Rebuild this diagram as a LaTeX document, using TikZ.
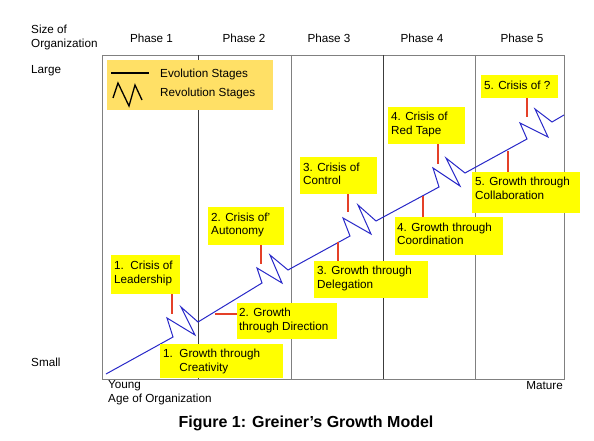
\documentclass[tikz,border=0pt]{standalone}
\usepackage{fontspec}
\setmainfont{Liberation Sans}
\definecolor{boxyellow}{RGB}{255,255,0}
\definecolor{legyellow}{RGB}{255,224,102}
\definecolor{tickred}{RGB}{228,64,40}
\definecolor{curveblue}{RGB}{40,40,200}
\definecolor{framegray}{RGB}{128,128,128}
\definecolor{divdark}{RGB}{60,60,60}
\begin{document}
\begin{tikzpicture}[x=1pt,y=-1pt,
  lbl/.style={font=\fontsize{11.7}{14}\selectfont, inner sep=0pt},
  ttl/.style={font=\fontsize{16}{19}\selectfont\bfseries, inner sep=0pt},
  ybox/.style={fill=boxyellow, anchor=north west, inner sep=0pt},
  btext/.style={anchor=north west, inner sep=0pt, align=left, font=\fontsize{11.7}{13.8}\selectfont},
  tickline/.style={draw=tickred, line width=1.4pt},
  frameline/.style={draw=framegray, line width=0.9pt},
  darkline/.style={draw=divdark, line width=0.9pt},
  curveline/.style={draw=curveblue, line width=1pt, line join=miter},
  legline/.style={draw=black, line width=1.1pt}]
\useasboundingbox (0,0) rectangle (594,441);

% axis texts
\node[lbl, anchor=base west] (size1) at (31,34) {Size of};
\node[lbl, anchor=base west] (size2) at (31,48) {Organization};
\node[lbl, anchor=base west] (large) at (31,74) {Large};
\node[lbl, anchor=base west] (small) at (31,366.5) {Small};
\node[lbl, anchor=base west] (young) at (108,388.5) {Young};
\node[lbl, anchor=base west] (age) at (108,402) {Age of Organization};
\node[lbl, anchor=base east] (mature) at (563,389.5) {Mature};
\node[lbl, anchor=base] (ph1) at (151.5,42.5) {Phase 1};
\node[lbl, anchor=base] (ph2) at (244,42.5) {Phase 2};
\node[lbl, anchor=base] (ph3) at (329,42.5) {Phase 3};
\node[lbl, anchor=base] (ph4) at (422,42.5) {Phase 4};
\node[lbl, anchor=base] (ph5) at (522,42.5) {Phase 5};
\node[ttl, anchor=base] (title) at (306,427) {Figure 1: Greiner’s Growth Model};

% frame
\draw[frameline] (102,55) rectangle (564,379);
\draw[darkline] (198,55) -- (198,379);
\draw[frameline] (291,55) -- (291,379);
\draw[darkline] (383,55) -- (383,379);
\draw[frameline] (475,55) -- (475,379);

% curve
\draw[curveline] (106,374) -- (173,337) -- (167,318) -- (195,335) -- (181,307) -- (198,322)
  -- (262,283) -- (257,268) -- (282,283) -- (270,255) -- (288,270)
  -- (350,236) -- (343,218) -- (371,234) -- (358,205) -- (376,221)
  -- (439,187) -- (433,168) -- (460,186) -- (446,158) -- (465,173)
  -- (527,139) -- (520,123) -- (548,137) -- (535,109) -- (552,122) -- (564,115);

% legend
\node[ybox, fill=legyellow, minimum width=166pt, minimum height=50pt] (leg) at (107,60) {};
\coordinate (la) at (111,73);
\coordinate (lb) at (149,73);
\draw[legline] (la) -- (lb);
\coordinate (z0) at (113,98);
\coordinate (z1) at (118,83);
\coordinate (z2) at (129,106);
\coordinate (z3) at (135,85);
\coordinate (z4) at (142,100);
\draw[legline, line width=1.3pt] (z0) -- (z1) -- (z2) -- (z3) -- (z4);
\node[lbl, anchor=base west] (evo) at (160,77.5) {Evolution Stages};
\node[lbl, anchor=base west] (rev) at (160,97) {Revolution Stages};

% boxes
\node[ybox, minimum width=69pt, minimum height=39pt] (c1) at (111,255) {};
\node[btext] (c1t) at ([xshift=3pt,yshift=-5.6pt]c1.north west) {1.\ \ Crisis of\\Leadership};
\node[ybox, minimum width=123pt, minimum height=34pt] (g1) at (160,344) {};
\node[btext] (g1t) at ([xshift=3pt,yshift=-5pt]g1.north west) {1.\ \ Growth through\\\phantom{1.\ \ }Creativity};
\node[ybox, minimum width=100pt, minimum height=36pt] (g2) at (237,303) {};
\node[btext] (g2t) at ([xshift=2pt,yshift=-4.6pt]g2.north west) {2. Growth\\through Direction};
\node[ybox, minimum width=76pt, minimum height=38pt] (c2) at (208,207) {};
\node[btext] (c2t) at ([xshift=3pt,yshift=-5.4pt]c2.north west) {2. Crisis of’\\Autonomy};
\node[ybox, minimum width=77pt, minimum height=37pt] (c3) at (300,157) {};
\node[btext] (c3t) at ([xshift=3pt,yshift=-5.4pt]c3.north west) {3. Crisis of\\Control};
\node[ybox, minimum width=114pt, minimum height=37pt] (g3) at (314,261) {};
\node[btext] (g3t) at ([xshift=3pt,yshift=-4.8pt]g3.north west) {3. Growth through\\Delegation};
\node[ybox, minimum width=77pt, minimum height=37pt] (c4) at (388,107) {};
\node[btext] (c4t) at ([xshift=3pt,yshift=-4.8pt]c4.north west) {4. Crisis of\\Red Tape};
\node[ybox, minimum width=108pt, minimum height=38pt] (g4) at (395,217) {};
\node[btext] (g4t) at ([xshift=2pt,yshift=-5.4pt]g4.north west) {4. Growth through\\Coordination};
\node[ybox, minimum width=77pt, minimum height=23pt] (c5) at (481,75) {};
\node[btext] (c5t) at ([xshift=3pt,yshift=-6pt]c5.north west) {5. Crisis of ?};
\node[ybox, minimum width=108pt, minimum height=41pt] (g5) at (472,172) {};
\node[btext] (g5t) at ([xshift=3pt,yshift=-4.8pt]g5.north west) {5. Growth through\\Collaboration};

% ticks
\coordinate (t1) at (172,314);
\draw[tickline] (t1 |- c1.south) -- (t1);
\coordinate (t2) at (215,314);
\draw[tickline] (t2) -- (t2 -| g2.west);
\coordinate (t3) at (261,264);
\draw[tickline] (t3 |- c2.south) -- (t3);
\coordinate (t4) at (348,212);
\draw[tickline] (t4 |- c3.south) -- (t4);
\coordinate (t5) at (338,242);
\draw[tickline] (t5) -- (t5 |- g3.north);
\coordinate (t6) at (438,164);
\draw[tickline] (t6 |- c4.south) -- (t6);
\coordinate (t7) at (423,196);
\draw[tickline] (t7) -- (t7 |- g4.north);
\coordinate (t8) at (508,151);
\draw[tickline] (t8) -- (t8 |- g5.north);
\coordinate (t9) at (527,117);
\draw[tickline] (t9 |- c5.south) -- (t9);
\end{tikzpicture}
\end{document}
